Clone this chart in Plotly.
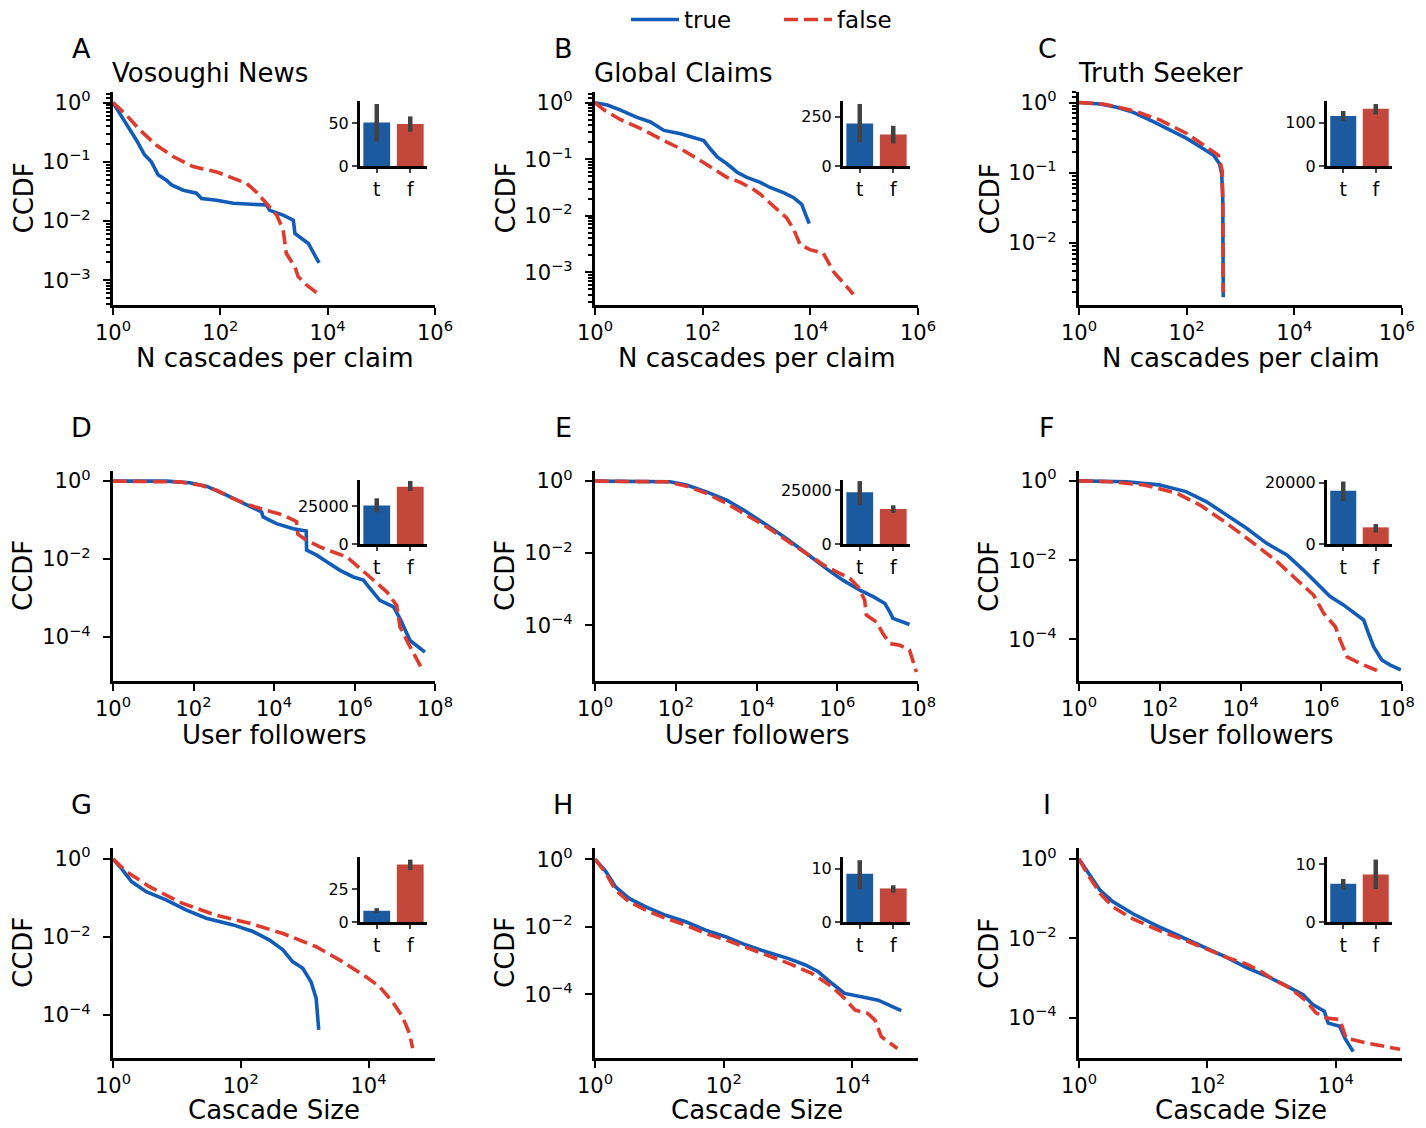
import numpy as np
import plotly.graph_objects as go

PAGE_W, PAGE_H = 1426, 1128
BODY = 8                      # default page margin around the figure
W, H = PAGE_W - 2 * BODY, PAGE_H - 2 * BODY

# ---------------- data (log10 of x and of CCDF) ----------------
A_true_lx = [0, 0.22, 0.435, 0.59, 0.715, 0.84, 0.995, 1.09, 1.31, 1.555, 1.65, 1.93, 2.24, 2.86, 2.92, 3.17, 3.36, 3.39, 3.64, 3.84]
A_true_ly = [0, -0.32, -0.63, -0.885, -1.0, -1.22, -1.31, -1.39, -1.48, -1.53, -1.62, -1.65, -1.70, -1.73, -1.82, -1.90, -1.985, -2.21, -2.38, -2.71]
A_false_lx = [0, 0.25, 0.50, 0.81, 1.12, 1.49, 1.93, 2.24, 2.49, 2.67, 2.86, 3.05, 3.17, 3.23, 3.39, 3.45, 3.61, 3.82]
A_false_ly = [0, -0.21, -0.46, -0.72, -0.91, -1.08, -1.17, -1.28, -1.365, -1.51, -1.70, -1.90, -2.15, -2.55, -2.775, -2.94, -3.085, -3.23]

B_true_lx = [0, 0.23, 0.475, 0.78, 1.03, 1.28, 1.59, 1.83, 2.02, 2.14, 2.27, 2.45, 2.64, 2.82, 3.07, 3.25, 3.50, 3.69, 3.84, 3.90, 3.98]
B_true_ly = [0, -0.04, -0.13, -0.26, -0.34, -0.49, -0.55, -0.61, -0.67, -0.815, -0.96, -1.08, -1.23, -1.32, -1.41, -1.50, -1.59, -1.68, -1.80, -1.95, -2.14]
B_false_lx = [0, 0.17, 0.475, 0.85, 1.28, 1.59, 1.90, 2.20, 2.45, 2.70, 2.94, 3.07, 3.31, 3.56, 3.69, 3.81, 3.99, 4.24, 4.43, 4.62, 4.80]
B_false_ly = [0, -0.13, -0.30, -0.46, -0.67, -0.815, -0.99, -1.17, -1.32, -1.41, -1.53, -1.62, -1.83, -2.04, -2.24, -2.51, -2.60, -2.66, -2.99, -3.20, -3.39]

C_true_lx = [0, 0.39, 0.70, 1.01, 1.38, 1.69, 2.00, 2.25, 2.50, 2.61, 2.65, 2.67, 2.672, 2.68]
C_true_ly = [0, -0.02, -0.067, -0.14, -0.27, -0.39, -0.51, -0.63, -0.75, -0.87, -1.01, -1.35, -1.83, -2.77]
C_false_lx = [0, 0.45, 1.01, 1.51, 2.00, 2.37, 2.59, 2.66, 2.67, 2.68]
C_false_ly = [0, -0.02, -0.115, -0.25, -0.44, -0.63, -0.75, -0.97, -1.35, -2.70]

D_true_lx = [0, 1.33, 1.91, 2.32, 2.82, 3.23, 3.69, 3.73, 4.06, 4.48, 4.80, 4.81, 5.06, 5.31, 5.64, 5.97, 6.22, 6.39, 6.63, 6.97, 7.13, 7.38, 7.75]
D_true_ly = [0, 0, -0.04, -0.13, -0.36, -0.57, -0.79, -0.92, -1.09, -1.22, -1.28, -1.77, -1.90, -2.07, -2.29, -2.46, -2.54, -2.76, -3.06, -3.23, -3.53, -4.09, -4.39]
D_false_lx = [0, 1.66, 2.16, 2.57, 2.99, 3.40, 3.81, 4.23, 4.56, 4.59, 4.81, 5.14, 5.47, 5.80, 6.14, 6.47, 6.80, 7.05, 7.13, 7.34, 7.67]
D_false_ly = [0, -0.02, -0.10, -0.23, -0.45, -0.62, -0.75, -0.87, -1.04, -1.36, -1.52, -1.69, -1.82, -1.94, -2.24, -2.54, -2.84, -3.19, -3.74, -4.17, -4.81]

E_true_lx = [0, 1.28, 1.86, 2.27, 2.76, 3.26, 3.75, 4.25, 4.74, 5.24, 5.73, 6.14, 6.56, 6.89, 7.18, 7.30, 7.38, 7.79]
E_true_ly = [0, 0, -0.02, -0.11, -0.30, -0.53, -0.85, -1.22, -1.59, -2.01, -2.43, -2.75, -3.03, -3.21, -3.40, -3.63, -3.81, -3.98]
E_false_lx = [0, 1.77, 2.27, 2.76, 3.26, 3.75, 4.25, 4.74, 5.24, 5.73, 6.06, 6.31, 6.52, 6.68, 6.72, 6.97, 7.13, 7.30, 7.55, 7.79, 7.96]
E_false_ly = [0, -0.02, -0.14, -0.34, -0.62, -0.94, -1.27, -1.64, -2.01, -2.38, -2.56, -2.70, -2.94, -3.31, -3.72, -3.91, -4.23, -4.51, -4.56, -4.69, -5.30]

F_true_lx = [0, 1.18, 1.98, 2.65, 3.15, 3.64, 4.16, 4.64, 5.15, 5.56, 5.98, 6.22, 6.55, 6.76, 7.05, 7.17, 7.30, 7.50, 7.71, 7.97]
F_true_ly = [0, -0.02, -0.10, -0.27, -0.52, -0.86, -1.20, -1.57, -1.87, -2.25, -2.67, -2.92, -3.13, -3.30, -3.51, -3.85, -4.19, -4.52, -4.65, -4.77]
F_false_lx = [0, 0.77, 1.60, 2.42, 3.00, 3.66, 4.32, 4.90, 5.40, 5.81, 6.06, 6.35, 6.47, 6.64, 6.97, 7.46]
F_false_ly = [0, -0.02, -0.10, -0.31, -0.61, -1.07, -1.57, -2.03, -2.50, -2.88, -3.34, -3.68, -4.02, -4.44, -4.61, -4.82]

G_true_lx = [0, 0.13, 0.29, 0.52, 0.83, 1.15, 1.46, 1.88, 2.19, 2.45, 2.66, 2.81, 2.97, 3.10, 3.18, 3.22]
G_true_ly = [0, -0.24, -0.58, -0.84, -1.05, -1.31, -1.52, -1.69, -1.86, -2.08, -2.33, -2.63, -2.80, -3.15, -3.57, -4.38]
G_false_lx = [0, 0.21, 0.57, 1.09, 1.61, 2.14, 2.66, 3.18, 3.59, 3.96, 4.17, 4.375, 4.53, 4.64, 4.69]
G_false_ly = [0, -0.325, -0.71, -1.14, -1.44, -1.65, -1.91, -2.25, -2.63, -3.02, -3.27, -3.66, -4.04, -4.47, -4.85]

H_true_lx = [0, 0.17, 0.32, 0.53, 0.79, 1.10, 1.41, 1.72, 2.04, 2.35, 2.66, 3.01, 3.27, 3.47, 3.68, 3.88, 4.14, 4.40, 4.76]
H_true_ly = [0, -0.37, -0.82, -1.16, -1.41, -1.66, -1.85, -2.10, -2.30, -2.54, -2.74, -2.94, -3.13, -3.33, -3.67, -3.97, -4.07, -4.17, -4.48]
H_false_lx = [0, 0.17, 0.32, 0.53, 0.79, 1.10, 1.41, 1.72, 2.04, 2.35, 2.66, 3.01, 3.37, 3.68, 3.88, 4.04, 4.24, 4.35, 4.45, 4.70]
H_false_ly = [0, -0.42, -0.92, -1.26, -1.51, -1.75, -1.95, -2.20, -2.39, -2.61, -2.84, -3.08, -3.38, -3.77, -4.12, -4.46, -4.56, -4.76, -5.25, -5.60]

I_true_lx = [0, 0.145, 0.33, 0.53, 0.84, 1.26, 1.67, 1.98, 2.30, 2.61, 2.92, 3.23, 3.49, 3.64, 3.82, 3.88, 4.06, 4.14, 4.27]
I_true_ly = [0, -0.36, -0.79, -1.08, -1.38, -1.72, -2.02, -2.23, -2.48, -2.74, -2.95, -3.20, -3.42, -3.67, -3.84, -4.14, -4.22, -4.52, -4.86]
I_false_lx = [0, 0.145, 0.33, 0.53, 0.84, 1.26, 1.67, 1.98, 2.30, 2.61, 2.82, 3.02, 3.28, 3.54, 3.69, 3.85, 4.06, 4.16, 4.47, 5.00]
I_false_ly = [0, -0.41, -0.87, -1.21, -1.51, -1.81, -2.06, -2.27, -2.48, -2.65, -2.82, -3.03, -3.25, -3.58, -3.88, -4.01, -4.05, -4.52, -4.64, -4.80]

# inset bars: mean, CI low, CI high for [t, f]
bar_cats = ["t", "f"]
A_bar_mean = [51, 49];        A_bar_lo = [28.6, 40];        A_bar_hi = [72.5, 58]
B_bar_mean = [216, 160];      B_bar_lo = [120, 114];        B_bar_hi = [315, 204]
C_bar_mean = [115.6, 132];    C_bar_lo = [104, 119];        C_bar_hi = [127, 143]
D_bar_mean = [25200, 37600];  D_bar_lo = [20800, 34800];    D_bar_hi = [30000, 41400]
E_bar_mean = [23900, 16200];  E_bar_lo = [18000, 14400];    E_bar_hi = [29100, 17900]
F_bar_mean = [17400, 5440];   F_bar_lo = [14000, 3800];     F_bar_hi = [20400, 6500]
G_bar_mean = [8.5, 43.5];     G_bar_lo = [6.8, 39.2];       G_bar_hi = [10.5, 47.2]
H_bar_mean = [9.07, 6.3];     H_bar_lo = [6.15, 5.5];       H_bar_hi = [11.6, 6.9]
I_bar_mean = [6.6, 8.2];      I_bar_lo = [5.6, 5.7];        I_bar_hi = [7.45, 10.8]

inset_ticks = {"A": [0, 50], "B": [0, 250], "C": [0, 100], "D": [0, 25000], "E": [0, 25000],
               "F": [0, 20000], "G": [0, 25], "H": [0, 10], "I": [0, 10]}

titles = {"A": "Vosoughi News", "B": "Global Claims", "C": "Truth Seeker"}
row_xlabels = ["N cascades per claim", "User followers", "Cascade Size"]
series_names = ["true", "false"]

# ---------------- styling / layout ----------------
BLUE = "#115cb9"
RED = "#df3a2e"
BAR_BLUE = "#1b5a9e"
BAR_RED = "#c3473b"
ERR = "#424242"
FONT = "DejaVu Sans"

# positions in page pixels
cols_x = [(113, 435), (595, 918), (1079, 1402)]
rows_y = [(92, 305), (471, 681), (848, 1058)]
inset_cols = [(360, 427), (843, 910), (1327, 1392)]
inset_rows = [(101, 166), (480, 544), (857, 922)]
xlabel_offset = [53, 54, 52]

xr = {"A": [0, 6], "B": [0, 6], "C": [0, 6], "D": [0, 8], "E": [0, 8], "F": [0, 8],
      "G": [0, 5.04], "H": [0, 5.02], "I": [0, 5.03]}
yr = {"A": [-3.42, 0.18], "B": [-3.58, 0.19], "C": [-2.88, 0.15], "D": [-5.13, 0.26],
      "E": [-5.55, 0.28], "F": [-5.05, 0.25], "G": [-5.1, 0.28], "H": [-5.88, 0.33], "I": [-5.02, 0.28]}
inset_top = {"A": 76, "B": 330, "C": 150, "D": 42000, "E": 29600, "F": 20900,
             "G": 49.2, "H": 12.2, "I": 11.25}

curves = {
    "A": (A_true_lx, A_true_ly, A_false_lx, A_false_ly),
    "B": (B_true_lx, B_true_ly, B_false_lx, B_false_ly),
    "C": (C_true_lx, C_true_ly, C_false_lx, C_false_ly),
    "D": (D_true_lx, D_true_ly, D_false_lx, D_false_ly),
    "E": (E_true_lx, E_true_ly, E_false_lx, E_false_ly),
    "F": (F_true_lx, F_true_ly, F_false_lx, F_false_ly),
    "G": (G_true_lx, G_true_ly, G_false_lx, G_false_ly),
    "H": (H_true_lx, H_true_ly, H_false_lx, H_false_ly),
    "I": (I_true_lx, I_true_ly, I_false_lx, I_false_ly),
}
bars = {
    "A": (A_bar_mean, A_bar_lo, A_bar_hi), "B": (B_bar_mean, B_bar_lo, B_bar_hi),
    "C": (C_bar_mean, C_bar_lo, C_bar_hi), "D": (D_bar_mean, D_bar_lo, D_bar_hi),
    "E": (E_bar_mean, E_bar_lo, E_bar_hi), "F": (F_bar_mean, F_bar_lo, F_bar_hi),
    "G": (G_bar_mean, G_bar_lo, G_bar_hi), "H": (H_bar_mean, H_bar_lo, H_bar_hi),
    "I": (I_bar_mean, I_bar_lo, I_bar_hi),
}


def fx(p):
    return (p - BODY) / W


def fy(p):
    return 1 - (p - BODY) / H


def pow_label(k):
    return "10<sup>" + ("\u2212" if k < 0 else "") + str(abs(k)) + "</sup>"


fig = go.Figure()
layout = dict(
    width=W, height=H, margin=dict(l=0, r=0, t=0, b=0, autoexpand=False),
    paper_bgcolor="white", plot_bgcolor="white",
    font=dict(family=FONT, color="black", size=20),
    bargap=0.2,
    showlegend=True,
    legend=dict(orientation="h", x=fx(626), xanchor="left", y=fy(-2), yanchor="top",
                font=dict(size=23), itemwidth=48, bgcolor="rgba(0,0,0,0)",
                entrywidth=90),
)
annotations = []

keys = ["A", "B", "C", "D", "E", "F", "G", "H", "I"]
for idx, key in enumerate(keys):
    r, c = divmod(idx, 3)
    main_n = 2 * idx + 1
    ins_n = 2 * idx + 2
    mx = "x" if main_n == 1 else f"x{main_n}"
    my = "y" if main_n == 1 else f"y{main_n}"
    ix, iy = f"x{ins_n}", f"y{ins_n}"
    xa = "xaxis" if main_n == 1 else f"xaxis{main_n}"
    ya = "yaxis" if main_n == 1 else f"yaxis{main_n}"

    tlx, tly, flx, fly = curves[key]
    fig.add_trace(go.Scatter(
        x=np.power(10.0, tlx), y=np.power(10.0, tly), mode="lines",
        line=dict(color=BLUE, width=3.6), name=series_names[0],
        showlegend=(idx == 0), xaxis=mx, yaxis=my, hoverinfo="skip"))
    fig.add_trace(go.Scatter(
        x=np.power(10.0, flx), y=np.power(10.0, fly), mode="lines",
        line=dict(color=RED, width=3.6, dash="14px,6px"), name=series_names[1],
        showlegend=(idx == 0), xaxis=mx, yaxis=my, hoverinfo="skip"))

    mean, lo, hi = bars[key]
    fig.add_trace(go.Bar(
        x=bar_cats, y=mean, marker=dict(color=[BAR_BLUE, BAR_RED], line=dict(width=0)),
        error_y=dict(type="data", symmetric=False,
                     array=[h - m for h, m in zip(hi, mean)],
                     arrayminus=[m - l for m, l in zip(mean, lo)],
                     color=ERR, thickness=4.5, width=0),
        showlegend=False, xaxis=ix, yaxis=iy, hoverinfo="skip"))

    # main axes
    x0, x1 = cols_x[c]
    y0, y1 = rows_y[r]
    xmax = int(np.floor(xr[key][1] + 1e-9))
    xt = list(range(0, xmax + 1, 2))
    ymin = int(np.ceil(yr[key][0]))
    ystep = 1 if r == 0 else 2
    yt = list(range(0, ymin - 1, -ystep))
    xtext = [pow_label(k) for k in xt]
    if c == 2 and xt[-1] >= 6:
        # nudge the last label of the right-hand column so it stays inside the page
        xtext[-1] = xtext[-1] + "\u2002"
    axis_common = dict(showline=True, linecolor="black", linewidth=3.2, ticks="outside",
                       ticklen=7, tickwidth=2.4, tickcolor="black", showgrid=False,
                       zeroline=False, tickfont=dict(size=21, family=FONT), mirror=False,
                       automargin=False, ticklabeloverflow="allow")
    layout[xa] = dict(axis_common, type="log", domain=[fx(x0), fx(x1)], range=xr[key],
                      anchor=my, tickmode="array", tickvals=[10.0 ** k for k in xt],
                      ticktext=xtext)
    ydict = dict(axis_common, type="log", domain=[fy(y1), fy(y0)], range=yr[key],
                 anchor=mx, tickmode="array", tickvals=[10.0 ** k for k in yt],
                 ticktext=[pow_label(k) for k in yt], ticklabelstandoff=8)
    if r == 0:
        mv = [m * 10.0 ** k for k in range(-4, 0) for m in range(2, 10)] + [1.2, 1.4]
        ydict["minor"] = dict(tickmode="array", tickvals=mv, ticks="outside", ticklen=4,
                              tickwidth=1.5, tickcolor="black", showgrid=False)
    layout[ya] = ydict

    # inset axes
    ix0, ix1 = inset_cols[c]
    iy0, iy1 = inset_rows[r]
    layout[f"xaxis{ins_n}"] = dict(domain=[fx(ix0), fx(ix1)], anchor=iy, type="category",
                                   range=[-0.5, 1.5], showline=True, linecolor="black",
                                   linewidth=3, ticks="outside", ticklen=4, tickwidth=2,
                                   showgrid=False, zeroline=False, automargin=False,
                                   tickfont=dict(size=19, family=FONT))
    layout[f"yaxis{ins_n}"] = dict(domain=[fy(iy1), fy(iy0)], anchor=ix, range=[0, inset_top[key]],
                                   showline=True, linecolor="black", linewidth=3,
                                   ticks="outside", ticklen=5, tickwidth=2, showgrid=False,
                                   zeroline=False, tickmode="array", tickvals=inset_ticks[key],
                                   ticktext=[str(v) for v in inset_ticks[key]], automargin=False,
                                   tickfont=dict(size=16, family=FONT))

    # texts
    annotations.append(dict(text=key, x=fx(x0 - 32), y=fy(y0 - 44), xref="paper", yref="paper",
                            showarrow=False, font=dict(size=27), xanchor="center", yanchor="middle"))
    if key in titles:
        annotations.append(dict(text=titles[key], x=fx(x0 - 3), y=fy(y0 - 19), xref="paper",
                                yref="paper", showarrow=False, font=dict(size=26),
                                xanchor="left", yanchor="middle"))
    annotations.append(dict(text="CCDF", x=fx(x0 - 90), y=fy((y0 + y1) / 2), xref="paper",
                            yref="paper", showarrow=False, textangle=-90, font=dict(size=26),
                            xanchor="center", yanchor="middle"))
    annotations.append(dict(text=row_xlabels[r], x=fx((x0 + x1) / 2), y=fy(y1 + xlabel_offset[r]),
                            xref="paper", yref="paper", showarrow=False, font=dict(size=26),
                            xanchor="center", yanchor="middle"))

layout["annotations"] = annotations
fig.update_layout(**layout)
fig.write_html("out.html")
